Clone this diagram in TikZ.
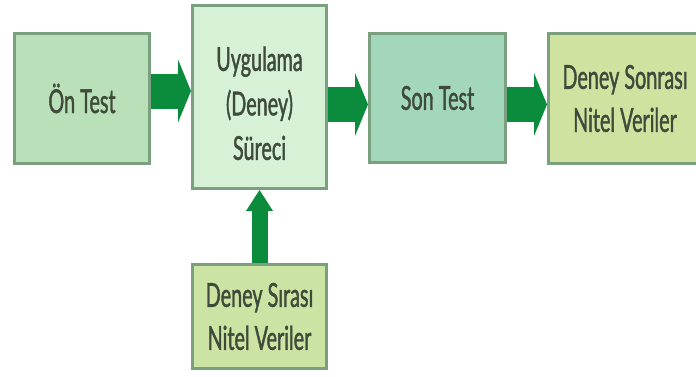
\documentclass[tikz,border=0pt]{standalone}
\usepackage{fontspec}
\usepackage{xcolor}
\usepackage{tikz}
\usetikzlibrary{arrows.meta,positioning,calc}
\newfontfamily\kutufont[FakeStretch=0.6,FakeBold=1.2]{Lato}
\definecolor{kenar}{RGB}{122,160,128}
\definecolor{yazi}{RGB}{62,74,58}
\definecolor{ok}{RGB}{10,140,60}
\definecolor{renkA}{RGB}{185,224,185}
\definecolor{renkB}{RGB}{214,241,214}
\definecolor{renkC}{RGB}{163,215,186}
\definecolor{renkD}{RGB}{208,226,160}
\definecolor{renkE}{RGB}{204,228,163}
\tikzset{kutu/.style={draw=kenar, line width=3pt, text=yazi, align=center,
  font=\kutufont\fontsize{33}{43}\selectfont, inner sep=0pt},
  yanok/.style={ok, line width=35pt, -{Triangle[length=13pt,width=63pt,line width=0pt 0]}},
  dikok/.style={ok, line width=16pt, -{Triangle[length=21pt,width=27pt,line width=0pt 0]}}}

\begin{document}
\begin{tikzpicture}[x=1pt,y=1pt]
\useasboundingbox (0,0) rectangle (696,376);
\clip (0,0) rectangle (696,376);

\node[kutu, fill=renkA, minimum width=135pt, minimum height=130pt] (ontest) at (82,277.5) {Ön Test};
\node[kutu, fill=renkB, minimum width=134pt, minimum height=183pt, text height=126pt,
  font=\kutufont\fontsize{33}{44.5}\selectfont] (uygulama) at (259.5,279) {Uygulama\\(Deney)\\Süreci};
\node[kutu, fill=renkC, minimum width=136pt, minimum height=129pt] (sontest) at (437.5,278) {Son Test};
\node[kutu, fill=renkD, minimum width=153pt, minimum height=130pt] (sonrasi) at (625,277.5) {Deney Sonrası\\Nitel Veriler};
\node[kutu, fill=renkE, minimum width=134pt, minimum height=104pt] (sirasi) at (259.5,59.5) {Deney Sırası\\Nitel Veriler};

\draw[yanok] ([yshift=7.5pt]ontest.east) -- ([yshift=6pt]uygulama.west);
\draw[yanok] ([yshift=-7.5pt]uygulama.east) -- ([yshift=-6.5pt]sontest.west);
\draw[yanok] ([yshift=-6.5pt]sontest.east) -- ([yshift=-6pt]sonrasi.west);
\draw[dikok] (sirasi.north) -- (uygulama.south);

\end{tikzpicture}
\end{document}
